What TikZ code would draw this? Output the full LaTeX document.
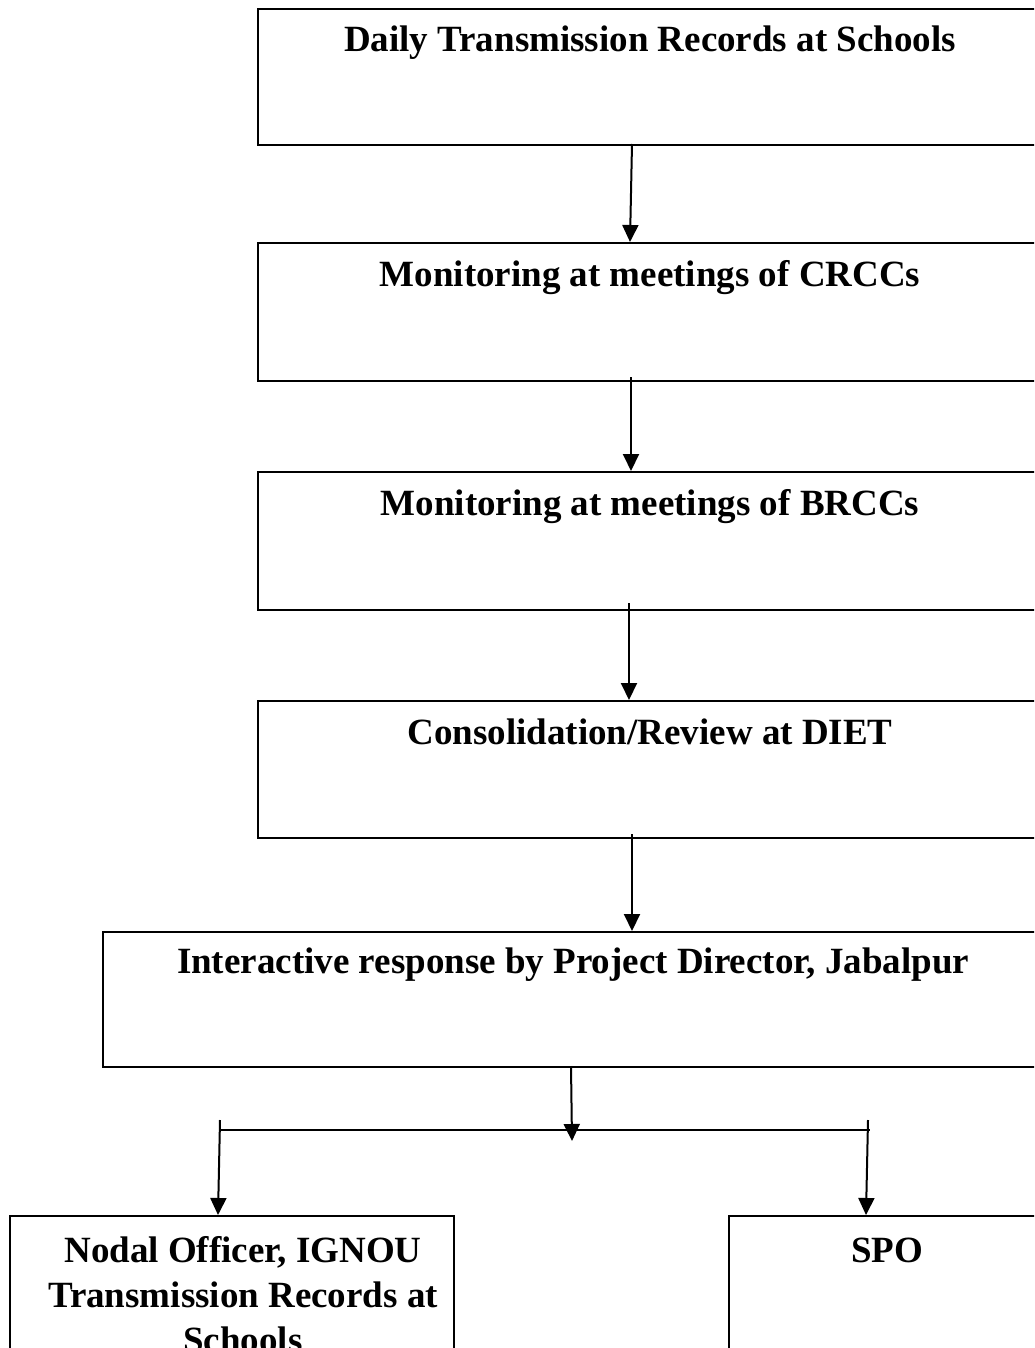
\documentclass[tikz,border=0pt]{standalone}
\usepackage{fontspec}
\setmainfont{Liberation Serif}
\usetikzlibrary{arrows.meta}
\begin{document}
\begin{tikzpicture}[x=1pt,y=-1pt,
  boxnode/.style={draw=black,line width=2.3pt,rectangle,inner sep=0pt,anchor=north west},
  lbl/.style={font=\bfseries\fontsize{37}{45}\selectfont,align=center,anchor=base,inner sep=0pt},
  arr/.style={line width=2pt,-{Triangle[length=17pt,width=16pt]}},
  ln/.style={line width=2.2pt}]
\useasboundingbox (0,0) rectangle (1034,1348);
\clip (0,0) rectangle (1034,1348);
\fill[white] (0,0) rectangle (1034,1348);
% boxes
\node[boxnode,minimum width=788pt,minimum height=136pt] (b1) at (257,8) {};
\node[boxnode,minimum width=788pt,minimum height=138pt] (b2) at (257,242) {};
\node[boxnode,minimum width=788pt,minimum height=138pt] (b3) at (257,471) {};
\node[boxnode,minimum width=788pt,minimum height=137pt] (b4) at (257,700) {};
\node[boxnode,minimum width=943pt,minimum height=135pt] (b5) at (102,931) {};
\node[boxnode,minimum width=444pt,minimum height=200pt] (b6) at (9,1215) {};
\node[boxnode,minimum width=318pt,minimum height=200pt] (b7) at (728,1215) {};
% labels
\node[lbl] (t1) at (650,52) {Daily Transmission Records at Schools};
\node[lbl] (t2) at (650,286) {Monitoring at meetings of CRCCs};
\node[lbl] (t3) at (650,515) {Monitoring at meetings of BRCCs};
\node[lbl] (t4) at (650,744) {Consolidation/Review at DIET};
\node[lbl] (t5) at (573,973) {Interactive response by Project Director, Jabalpur};
\node[lbl] (t6) at (243,1352) {Nodal Officer, IGNOU\\Transmission Records at\\Schools};
\node[lbl] (t7) at (887,1262) {SPO};
% connector points
\coordinate (a1s) at (632,144); \coordinate (a1e) at (630,242);
\coordinate (a2s) at (631,377); \coordinate (a2e) at (631,471);
\coordinate (a3s) at (629,603); \coordinate (a3e) at (629,700);
\coordinate (a4s) at (632,834); \coordinate (a4e) at (632,931);
\coordinate (a5s) at (571,1066); \coordinate (a5e) at (572,1141);
\coordinate (hl) at (220,1130); \coordinate (hr) at (870,1130);
\coordinate (l1) at (220,1120); \coordinate (l2) at (218,1215);
\coordinate (r1) at (868,1120); \coordinate (r2) at (866,1215);
% connectors
\draw[arr] (a1s) -- (a1e);
\draw[arr] (a2s) -- (a2e);
\draw[arr] (a3s) -- (a3e);
\draw[arr] (a4s) -- (a4e);
\draw[ln] (hl) -- (hr);
\draw[arr] (a5s) -- (a5e);
\draw[arr] (l1) -- (l2);
\draw[arr] (r1) -- (r2);
\end{tikzpicture}
\end{document}
